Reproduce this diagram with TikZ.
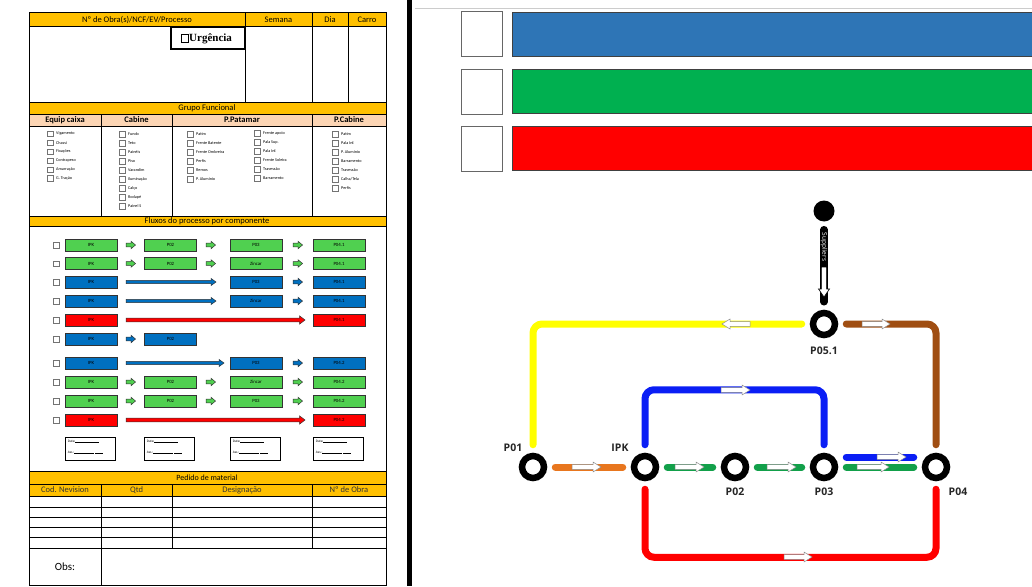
\documentclass[tikz,border=0pt]{standalone}
\usepackage{fontspec}
\setmainfont{Carlito}
\newfontfamily\serifbox{Liberation Serif}
\newfontfamily\mapfont{Open Sans}
\usepackage{tikz}
\usetikzlibrary{positioning}

\definecolor{hdr}{HTML}{FFC000}
\definecolor{peach}{HTML}{FCD5B4}
\definecolor{flowgreen}{HTML}{50D050}
\definecolor{flowblue}{HTML}{0070C0}
\definecolor{flowred}{HTML}{FF0000}
\definecolor{barblue}{HTML}{2E75B6}
\definecolor{bargreen}{HTML}{00B050}
\definecolor{linyellow}{HTML}{FFFF00}
\definecolor{linorange}{HTML}{E8761E}
\definecolor{lingreen}{HTML}{12A04A}
\definecolor{linblue}{HTML}{0A1EF5}
\definecolor{linred}{HTML}{FF0000}
\definecolor{linbrown}{HTML}{A04E12}

% block arrow towards +x: [style]{tail x}{y}{length}{shaft half}{head half}{head length}
\newcommand{\blockarrow}[7][]{%
  \filldraw[#1] (#2,#3-#5) -- (#2+#4-#7,#3-#5) -- (#2+#4-#7,#3-#6) -- (#2+#4,#3)
    -- (#2+#4-#7,#3+#6) -- (#2+#4-#7,#3+#5) -- (#2,#3+#5) -- cycle;}

\begin{document}
\begin{tikzpicture}[x=1pt, y=-1pt,
    cell/.style={font=\fontsize{8.5}{9}\selectfont, inner sep=0},
    head/.style={font=\bfseries\fontsize{8.5}{9}\selectfont, inner sep=0},
    chk/.style={draw=black!55, fill=white, line width=.5, minimum size=5.5, inner sep=0},
    item/.style={font=\fontsize{4.2}{5}\selectfont, inner sep=0},
    stepbox/.style={draw=black!80, line width=.6, fill=#1, minimum width=52,
      minimum height=12, inner sep=0, font=\fontsize{4.8}{5}\selectfont},
    datebox/.style={draw, line width=.7, minimum width=50, minimum height=23, inner sep=0},
    smallarr/.style={fill=#1, draw=black!80, line width=.5},
    flowarr/.style={fill=white, draw=black!45, line width=.5},
    station/.style={circle, draw=black, line width=6.5, fill=white, minimum size=22, inner sep=0},
    route/.style={line width=7, line cap=round, rounded corners=9, shorten <=8, shorten >=8},
    lbl/.style={font=\mapfont\bfseries\fontsize{10.5}{11}\selectfont, text=black!85, inner sep=0}]
  \useasboundingbox (0,0) rectangle (1032,586);

  % --- ficha: cabeçalho ---
  \fill[hdr] (29,13) rectangle (386,26);
  \draw (29,26) -- (386,26);
  \foreach \x in {245,312,348}
    \draw (\x,13) -- (\x,102);
  \node[cell] (obra) at (137,19.5) {Nº de Obra(s)/NCF/EV/Processo};
  \node[cell] (semana) at (278.5,19.5) {Semana};
  \node[cell] (dia) at (330,19.5) {Dia};
  \node[cell] (carro) at (367,19.5) {Carro};
  \draw[line width=1.6] (171,27.5) rectangle (245,49);
  \draw[line width=.6] (181,34.5) rectangle (188,42);
  \node[font=\serifbox\bfseries\fontsize{11}{12}\selectfont, anchor=west, inner sep=0]
    (urg) at (189,38.5) {Urgência};

  % --- grupo funcional ---
  \fill[hdr] (29,102) rectangle (386,114);
  \fill[peach] (29,114) rectangle (386,126);
  \draw (29,102) -- (386,102);
  \draw (29,114) -- (386,114);
  \draw (29,126) -- (386,126);
  \node[cell] (grupo) at (207,108) {Grupo Funcional};
  \foreach \x in {101,172,312}
    \draw (\x,114) -- (\x,216);
  \node[head] (eqh) at (65,120) {Equip caixa};
  \node[head] (cbh) at (136.5,120) {Cabine};
  \node[head] (pph) at (242,120) {P.Patamar};
  \node[head] (pch) at (349,120) {P.Cabine};
  \foreach \t [count=\i] in {Vigamento,Chassi,Fixações,Contrapeso,Amarração,G. Tração} {
    \node[chk] (eq\i) at (50,{125+8.9*\i}) {};
    \node[item, right=3pt of eq\i] {\t};
  }
  \foreach \t [count=\i] in {Fundo,Teto,Painéis,Piso,Varandim,Iluminação,Calço,Rodapé,Painel S} {
    \node[chk] (cb\i) at (122,{125+9*\i}) {};
    \node[item, right=3pt of cb\i] {\t};
  }
  \foreach \t [count=\i] in {Patim,Frente Batente,Frente Ombreira,Perfis,Remos,P. Alumínio} {
    \node[chk] (pa\i) at (190,{125+9*\i}) {};
    \node[item, right=3pt of pa\i] {\t};
  }
  \foreach \t [count=\i] in {Frente apoio,Pala Sup.,Pala Inf.,Frente Soleira,Travessão,Barramento} {
    \node[chk] (pb\i) at (257,{124+9*\i}) {};
    \node[item, right=3pt of pb\i] {\t};
  }
  \foreach \t [count=\i] in {Patim,Pala Inf.,P. Alumínio,Barramento,Travessão,Calha/Tela,Perfis} {
    \node[chk] (pc\i) at (335,{125+9*\i}) {};
    \node[item, right=3pt of pc\i] {\t};
  }

  % --- fluxos ---
  \fill[hdr] (29,216) rectangle (386,226);
  \draw[line width=1] (29,216) -- (386,216);
  \draw (29,226) -- (386,226);
  \node[cell] (fluxos) at (207,221) {Fluxos do processo por componente};
  \foreach \r/\y/\mid/\out in {1/245/P03/P04.1, 2/263.5/Zincar/P04.1,
                               8/382/Zincar/P04.2, 9/401/P03/P04.2} {
    \node[chk] (fc\r) at (56,\y) {};
    \node[stepbox=flowgreen] (fa\r) at (91,\y) {IPK};
    \node[stepbox=flowgreen] (fb\r) at (170.5,\y) {P02};
    \node[stepbox=flowgreen] (fd\r) at (256,\y) {\mid};
    \node[stepbox=flowgreen] (fe\r) at (339,\y) {\out};
    \foreach \ax in {126,206,293} {
      \blockarrow[smallarr=flowgreen]{\ax}{\y}{9.5}{1.8}{3.8}{4.5}
    }
  }
  \foreach \r/\y/\mid/\out/\tip in {3/282/P03/P04.1/216, 4/301/Zincar/P04.1/216,
                                    7/363/P03/P04.2/224} {
    \node[chk] (fc\r) at (56,\y) {};
    \node[stepbox=flowblue] (fa\r) at (91,\y) {IPK};
    \node[stepbox=flowblue] (fd\r) at (256,\y) {\mid};
    \node[stepbox=flowblue] (fe\r) at (339,\y) {\out};
    \blockarrow[smallarr=flowblue]{126}{\y}{\tip-126}{1.6}{3.6}{5}
    \blockarrow[smallarr=flowblue]{293}{\y}{9.5}{1.8}{3.8}{4.5}
  }
  \foreach \r/\y/\out in {5/320/P04.1, 10/420/P04.2} {
    \node[chk] (fc\r) at (56,\y) {};
    \node[stepbox=flowred] (fa\r) at (91,\y) {IPK};
    \node[stepbox=flowred] (fe\r) at (339,\y) {\out};
    \blockarrow[smallarr=flowred]{126}{\y}{179}{1.9}{4.2}{5.5}
  }
  \node[chk] (fc6) at (56,339) {};
  \node[stepbox=flowblue] (fa6) at (91,339) {IPK};
  \node[stepbox=flowblue] (fb6) at (170.5,339) {P02};
  \blockarrow[smallarr=flowblue]{126}{339}{9.5}{1.8}{3.8}{4.5}
  \foreach \x [count=\i] in {90,169,255,338} {
    \node[datebox] (dt\i) at (\x,448.5) {};
    \node[font=\fontsize{3.5}{11}\selectfont, align=left, anchor=north west, inner sep=0]
      at ([shift={(3,3)}]dt\i.north west)
      {Data:\rule{24pt}{.3pt}\\Ass.:\rule{20pt}{.3pt}\,\rule{8pt}{.3pt}};
  }

  % --- pedido de material ---
  \draw[line width=1] (29,471) -- (386,471);
  \fill[hdr] (29,472) rectangle (386,496);
  \draw (29,484) -- (386,484);
  \node[cell, font=\fontsize{8}{9}\selectfont] (pedido) at (207,478) {Pedido de material};
  \node[cell, text=black!80] (cod) at (65,490) {Cod. Nevision};
  \node[cell, text=black!80] (qtd) at (136.5,490) {Qtd};
  \node[cell, text=black!80] (desig) at (242,490) {Designação};
  \node[cell, text=black!80] (nobra) at (349,490) {Nº de Obra};
  \foreach \y in {496,507,517,527,537,548}
    \draw[line width=.9] (29,\y) -- (386,\y);
  \foreach \x in {101,172,312}
    \draw (\x,484) -- (\x,548);
  \draw (101,548) -- (101,585);
  \node[font=\fontsize{11}{12}\selectfont] (obs) at (65,567) {Obs:};

  % moldura
  \draw[line width=1] (29,13) -- (29,585) -- (386,585) -- (386,13) -- cycle;

  % --- separador e barras de cor ---
  \fill[black] (407,0) rectangle (412,586);
  \draw[gray!40] (415,8) -- (1032,8);
  \foreach \y/\c in {12/barblue, 69/bargreen, 126/red} {
    \draw[line width=1, black!60] (461,\y) rectangle (502,\y+45);
    \filldraw[fill=\c, draw=black!75, line width=.8] (512,\y) rectangle (1040,\y+44);
  }

  % --- mapa de linhas ---
  \node[station] (p01) at (533,467) {};
  \node[station] (ipk) at (645,467) {};
  \node[station] (p02) at (735,467) {};
  \node[station] (p03) at (824,467) {};
  \node[station] (p04) at (936,467) {};
  \node[station] (p051) at (824,324) {};
  \node[circle, fill=black, minimum size=21, inner sep=0] (sup) at (824,211) {};

  \draw[route, linorange] (p01) -- (ipk);
  \draw[route, lingreen] (ipk) -- (p02);
  \draw[route, lingreen] (p02) -- (p03);
  \draw[route, lingreen] (p03) -- (p04);
  \draw[route, linblue] ([yshift=10]p03.east) -- ([yshift=10]p04.west);
  \draw[route, linblue] (ipk.north) -- ++(0,-63) -| (p03.north);
  \draw[route, linred] (ipk.south) -- ++(0,76) -| (p04.south);
  \draw[route, linyellow] (p051.west) -| (p01.north);
  \draw[route, linbrown] (p051.east) -| (p04.north);
  \draw[route, black, line width=7.5] (sup) -- (p051);

  \node[rotate=-90, font=\mapfont\fontsize{6.5}{7}\selectfont, text=white, inner sep=0]
    (suptxt) at (824,247) {Suppliers};
  \blockarrow[fill=white, draw=black, line width=.6, rotate around={-90:(824,267)}]{824}{267}{30}{2.6}{5.5}{8}

  \blockarrow[flowarr]{572}{467}{29}{2.4}{5}{8}
  \blockarrow[flowarr]{675}{467}{29}{2.4}{5}{8}
  \blockarrow[flowarr]{767}{467}{29}{2.4}{5}{8}
  \blockarrow[flowarr]{857}{467}{32}{2.4}{5}{8}
  \blockarrow[flowarr]{877}{457}{29}{2.4}{5}{8}
  \blockarrow[flowarr]{721}{390}{29}{2.4}{5}{8}
  \blockarrow[flowarr]{784}{557}{28}{2.4}{5}{8}
  \blockarrow[flowarr]{862}{324}{28}{2.4}{5}{8}
  \blockarrow[flowarr, rotate around={180:(750,324)}]{750}{324}{28}{2.4}{5}{8}

  \node[lbl] (p01-l) at (513,448) {P01};
  \node[lbl] (ipk-l) at (620,448) {IPK};
  \node[lbl] (p02-l) at (735,492) {P02};
  \node[lbl] (p03-l) at (824,492) {P03};
  \node[lbl] (p04-l) at (958,492) {P04};
  \node[lbl] (p051-l) at (824,351) {P05.1};
\end{tikzpicture}
\end{document}
